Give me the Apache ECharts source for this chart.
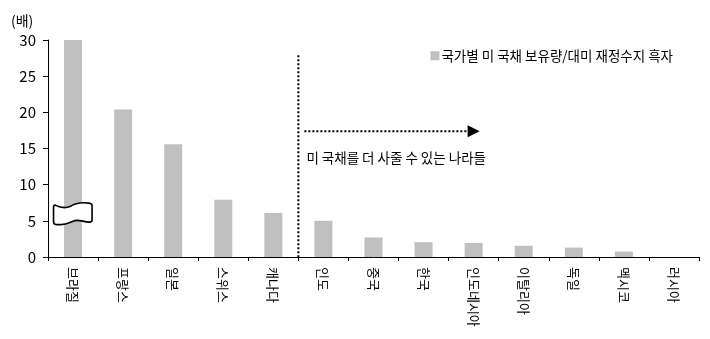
<!DOCTYPE html>
<html>
<head>
<meta charset="utf-8">
<script src="https://cdn.jsdelivr.net/npm/echarts@6/dist/echarts.min.js"></script>
<style>
  html, body { margin: 0; padding: 0; background: #fff; }
  #chart { width: 710px; height: 339px; }
</style>
</head>
<body>
<div id="chart"></div>
<script>
// Countries (x categories)
const countries = ['브라질', '프랑스', '일본', '스위스', '캐나다', '인도', '중국', '한국', '인도네시아', '이탈리아', '독일', '멕시코', '러시아'];
// US Treasury holdings / US trade surplus ratio (times); Brazil is cut off at the axis top
const ratios = [30, 20.4, 15.6, 7.9, 6.1, 5.0, 2.7, 2.05, 1.95, 1.55, 1.3, 0.75, 0];
const yTicks = [0, 5, 10, 15, 20, 25, 30];
const seriesName = '국가별 미 국채 보유량/대미 재정수지 흑자';
const noteText = '미 국채를 더 사줄 수 있는 나라들';
const unitText = '(배)';

const FONT = '"Noto Sans CJK KR", "Noto Sans", sans-serif';

// Wavy "axis break" flag drawn over the capped bar
echarts.graphic.registerShape('breakFlag', echarts.graphic.extendShape({
  shape: { cx: 0, cy: 0 },
  buildPath: function (ctx, s) {
    const x = s.cx, y = s.cy;
    ctx.moveTo(x - 18, y - 8.5);
    ctx.bezierCurveTo(x - 12, y - 5.5, x - 8, y - 5, x - 3, y - 7);
    ctx.bezierCurveTo(x + 2, y - 10.5, x + 8, y - 11.5, x + 16, y - 10.5);
    ctx.quadraticCurveTo(x + 19, y - 10, x + 19, y - 8);
    ctx.lineTo(x + 19, y + 7);
    ctx.quadraticCurveTo(x + 19, y + 8.5, x + 16, y + 8.5);
    ctx.bezierCurveTo(x + 10, y + 8, x + 6, y + 6, x + 2, y + 7);
    ctx.bezierCurveTo(x - 3, y + 8.5, x - 6, y + 11, x - 12, y + 11);
    ctx.lineTo(x - 17, y + 11);
    ctx.quadraticCurveTo(x - 19.5, y + 11, x - 19.5, y + 8);
    ctx.lineTo(x - 19.5, y - 6);
    ctx.quadraticCurveTo(x - 19.5, y - 8.5, x - 18, y - 8.5);
    ctx.closePath();
  }
}));

const chart = echarts.init(document.getElementById('chart'));

const option = {
  animation: false,
  textStyle: { fontFamily: FONT },
  title: {
    text: unitText,
    left: 6,
    top: 9,
    textStyle: { fontFamily: FONT, fontSize: 14, fontWeight: 'normal', color: '#000' }
  },
  legend: {
    data: [seriesName],
    right: 32,
    top: 44,
    icon: 'rect',
    itemWidth: 9,
    itemHeight: 9,
    itemGap: 2,
    textStyle: { fontFamily: FONT, fontSize: 13.5, color: '#000', padding: [0, 0, 0, -3] }
  },
  grid: { left: 48, right: 11, top: 40, bottom: 82, containLabel: false },
  xAxis: {
    type: 'category',
    data: countries,
    axisLine: { lineStyle: { color: '#000', width: 1 } },
    axisTick: { show: true, length: 4, lineStyle: { color: '#000' } },
    axisLabel: { rotate: -90, margin: 10, fontFamily: FONT, fontSize: 13, color: '#000' }
  },
  yAxis: {
    type: 'value',
    min: yTicks[0],
    max: yTicks[yTicks.length - 1],
    interval: yTicks[1] - yTicks[0],
    splitLine: { show: false },
    axisLine: { show: true, lineStyle: { color: '#000', width: 1 } },
    axisTick: { show: true, length: 5, lineStyle: { color: '#000' } },
    axisLabel: { margin: 12, fontFamily: FONT, fontSize: 15, color: '#000' }
  },
  series: [{
    name: seriesName,
    type: 'bar',
    data: ratios,
    barWidth: 18,
    itemStyle: { color: '#c0c0c0' }
  }]
};
chart.setOption(option);

// Annotations placed from axis coordinates
const px = (i, v) => chart.convertToPixel({ xAxisIndex: 0, yAxisIndex: 0 }, [i, v]);
const splitX = (px(4, 0)[0] + px(5, 0)[0]) / 2;
const baseY = px(0, 0)[1];
const lineTopY = px(0, 27.9)[1];
const arrowY = px(0, 17.4)[1];
const arrowStart = splitX + 6;
const arrowEnd = px(8, 0)[0] - 6;
const breakY = px(0, 6)[1];
const breakX = px(0, 0)[0];

const dotted = { stroke: '#000', lineWidth: 2, lineDash: [2, 2] };

chart.setOption({
  graphic: [
    {
      type: 'line',
      shape: { x1: splitX, y1: lineTopY, x2: splitX, y2: baseY },
      style: dotted,
      z: 100
    },
    {
      type: 'line',
      shape: { x1: arrowStart, y1: arrowY, x2: arrowEnd, y2: arrowY },
      style: dotted,
      z: 100
    },
    {
      type: 'polygon',
      shape: { points: [[arrowEnd, arrowY - 6], [arrowEnd + 12, arrowY], [arrowEnd, arrowY + 6]] },
      style: { fill: '#000' },
      z: 100
    },
    {
      type: 'text',
      x: splitX + 8,
      y: px(0, 13.7)[1],
      style: {
        text: noteText,
        font: '13.5px ' + FONT,
        fill: '#000',
        textVerticalAlign: 'middle'
      },
      z: 100
    },
    {
      type: 'breakFlag',
      shape: { cx: breakX, cy: breakY },
      style: { fill: '#fff', stroke: '#000', lineWidth: 1.6 },
      z: 100
    }
  ]
});
</script>
</body>
</html>
